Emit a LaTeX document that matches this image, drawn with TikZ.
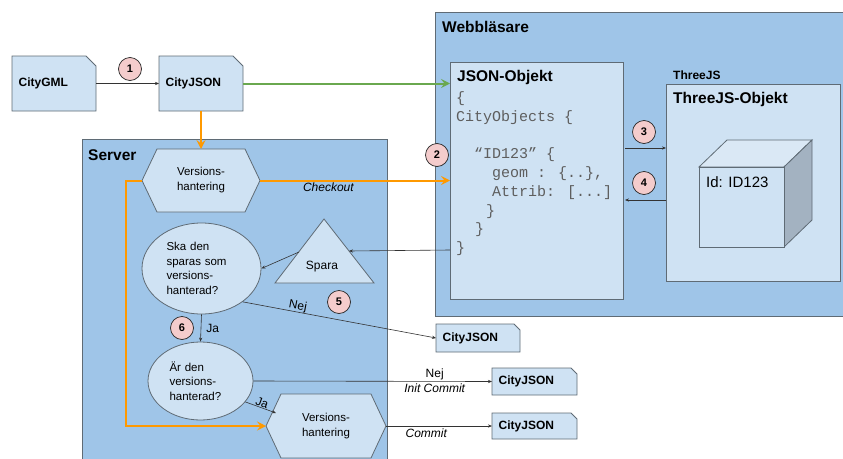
\documentclass[tikz,border=0pt]{standalone}
\usepackage{fontspec}
\setmainfont{Liberation Sans}
\newfontfamily\codefont{Liberation Mono}
\usetikzlibrary{shapes.geometric,arrows.meta,calc}

\definecolor{outerfill}{HTML}{9FC5E8}
\definecolor{innerfill}{HTML}{CFE2F3}
\definecolor{edgegray}{HTML}{5F6B75}
\definecolor{numfill}{HTML}{F4CCCC}
\definecolor{flow}{HTML}{FF9900}
\definecolor{webgreen}{HTML}{6AA84F}
\definecolor{codegray}{HTML}{5E5E5E}
\definecolor{cubeside}{HTML}{A3B2C1}
\definecolor{cubetop}{HTML}{DAE8F5}

\tikzset{
  panel/.style={fill=outerfill, draw=edgegray, line width=0.8pt},
  card/.style={fill=innerfill, draw=edgegray, line width=0.8pt},
  heading/.style={font=\fontsize{15.5}{18}\selectfont\bfseries, inner sep=0, anchor=west},
  smallheading/.style={font=\fontsize{12}{14}\selectfont\bfseries, inner sep=0, anchor=west},
  num/.style={circle, fill=numfill, draw=black!85, line width=0.7pt,
    minimum size=23pt, inner sep=0, font=\fontsize{11}{12}\selectfont\bfseries},
  blank/.style={inner sep=0, outer sep=0},
  doclabel/.style={font=\fontsize{12}{14}\selectfont\bfseries, inner sep=0, anchor=west},
  shapetext/.style={font=\fontsize{11.5}{15}\selectfont, align=center, inner sep=0},
  bubble/.style={ellipse, fill=innerfill, draw=edgegray, line width=0.8pt,
    inner sep=1pt, align=left, font=\fontsize{11.5}{14.6}\selectfont},
  thinarrow/.style={draw=black!80, line width=0.6pt, -{Stealth[length=4pt,width=3.2pt]}},
  orangearrow/.style={draw=flow, line width=2pt, -{Stealth[length=9pt,width=9pt,inset=3.5pt]}},
  greenarrow/.style={draw=webgreen, line width=2pt, -{Stealth[length=9pt,width=9pt,inset=3.5pt]}},
  lbl/.style={font=\fontsize{12}{14}\selectfont, inner sep=1pt},
  ilbl/.style={font=\fontsize{12}{14}\selectfont\itshape, inner sep=1pt},
}

% file-like box with one cut corner: name, x, y, width, height, cut, text
\newcommand\docshape[7]{%
  \draw[card] ({#2-#4/2},{#3+#5/2}) -- ({#2-#4/2},{#3-#5/2}) -- ({#2+#4/2-#6},{#3-#5/2})
    -- ({#2+#4/2},{#3-#5/2+#6}) -- ({#2+#4/2},{#3+#5/2}) -- cycle;
  \node[blank, minimum width=#4pt, minimum height=#5pt] (#1) at (#2,#3) {};
  \node[doclabel] at ([xshift=6.5pt]#1.west) {#7};
}
% hexagon: name, x, y, width, height, text
\newcommand\hexshape[6]{%
  \draw[card] ({#2-#4/2},#3) -- ({#2-#4/2+15},{#3-#5/2}) -- ({#2+#4/2-15},{#3-#5/2})
    -- ({#2+#4/2},#3) -- ({#2+#4/2-15},{#3+#5/2}) -- ({#2-#4/2+15},{#3+#5/2}) -- cycle;
  \node[blank, minimum width=#4pt, minimum height=#5pt] (#1) at (#2,#3) {};
  \node[shapetext] at (#1.center) {#6};
}

\begin{document}
\begin{tikzpicture}[x=1pt, y=-1pt]
\useasboundingbox (0,0) rectangle (843,458);
\clip (0,0) rectangle (843,458);

% containers
\draw[panel] (435,12) rectangle (860,316);
\node[heading] (webtitle) at (442,27) {Webbläsare};
\draw[panel] (82,139) rectangle (387,480);
\node[heading] (servertitle) at (88,155) {Server};

% JSON object card
\draw[card] (450,62) rectangle (623,299);
\node[blank, minimum width=173pt, minimum height=237pt] (jsonobj) at (536.5,180.5) {};
\node[heading] (jsontitle) at (457,77) {JSON-Objekt};
\node[inner sep=0, anchor=north west, align=left, text=codegray,
      font=\codefont\fontsize{15}{18.75}\selectfont] (code) at (456,91.5)
 {\{\\
  CityObjects \{\\
  \mbox{}\\
  \hspace*{18pt}“ID123” \{\\
  \hspace*{36pt}geom : \{..\},\\
  \hspace*{36pt}Attrib: [...]\\
  \hspace*{30pt}\}\\
  \hspace*{19pt}\}\\
  \}};

% ThreeJS card with cube
\node[smallheading] (threelabel) at (673,75) {ThreeJS};
\draw[card] (666,84) rectangle (840,281);
\node[blank, minimum width=174pt, minimum height=197pt] (threejs) at (753,182.5) {};
\node[heading] (threetitle) at (673,99) {ThreeJS-Objekt};
\draw[fill=cubetop, draw=edgegray, line width=0.8pt] (699,167) -- (727,140) -- (812,140) -- (784,167) -- cycle;
\draw[fill=cubeside, draw=edgegray, line width=0.8pt] (784,167) -- (812,140) -- (812,220) -- (784,247) -- cycle;
\draw[card] (699,167) rectangle (784,247);
\node[inner sep=0, anchor=west, font=\fontsize{15}{18}\selectfont] (cube) at (706,182) {Id: ID123};

% source files
\docshape{gml}{54}{83.5}{84}{55}{10}{CityGML}
\docshape{cjsrc}{201}{83.5}{84}{55}{10}{CityJSON}
\docshape{cjnej}{478}{338}{84}{28}{6}{CityJSON}
\docshape{cjinit}{534.5}{381.5}{85}{27}{6}{CityJSON}
\docshape{cjcommit}{534.5}{426}{85}{26}{6}{CityJSON}

% server shapes
\hexshape{vhtop}{201}{180.5}{118}{63}{Versions-\\hantering}
\hexshape{vhbot}{326}{426}{120}{64}{Versions-\\hantering}
\node[bubble, text width=70pt, minimum width=119pt, minimum height=91pt] (ska) at (201.5,268.5)
  {Ska den\\sparas som\\versions-\\hanterad?};
\node[bubble, text width=62pt, minimum width=105pt, minimum height=78pt] (ar) at (200.5,381)
  {Är den\\versions-\\hanterad?};
\draw[card] (324,219) -- (374,283) -- (275,283) -- cycle;
\node[lbl, inner sep=0] (spara) at (322,267) {Spara};
\coordinate (sparaR) at (349,251);
\coordinate (sparaL) at (299,252);

% connectors
\draw[thinarrow] (gml.east) -- (cjsrc.west);
\draw[greenarrow] (cjsrc.east) -- (cjsrc.east -| jsonobj.west);
\draw[orangearrow] (cjsrc.south) -- (vhtop.north);
\draw[orangearrow] (vhtop.east) -- node[ilbl, below=0.5pt, pos=0.36] {Checkout} (vhtop.east -| jsonobj.west);
\draw[orangearrow] (vhtop.west) -- ++(-16,0) |- (vhbot.west);

\coordinate (lvl3) at (0,148);
\coordinate (lvl4) at (0,200);
\coordinate (lvlsave) at (0,250);
\draw[thinarrow] ([xshift=2pt]jsonobj.east |- lvl3) -- (threejs.west |- lvl3);
\draw[thinarrow] (threejs.west |- lvl4) -- ([xshift=2pt]jsonobj.east |- lvl4);
\draw[thinarrow] (jsonobj.west |- lvlsave) -- (sparaR);
\draw[thinarrow] (sparaL) -- (ska.east);
\draw[thinarrow] (ska.-39) -- node[lbl, pos=0.28, above=-1pt, sloped] {Nej} (cjnej.west);
\draw[thinarrow] (ska.south) -- node[lbl, right=4pt, pos=0.5] {Ja} (ar.north);
\draw[thinarrow] (ar.east) -- node[lbl, above=0pt, pos=0.76] {Nej}
                            node[ilbl, below=1pt, pos=0.76] {Init Commit} (cjinit.west);
\draw[thinarrow] (ar.-25) -- node[lbl, above=-1pt, sloped, pos=0.5] {Ja} ($(vhbot.west)+(10,-13)$);
\draw[thinarrow] (vhbot.east) -- node[ilbl, below=1pt, pos=0.38] {Commit} (cjcommit.west);

% step numbers
\node[num] (n1) at (130,69) {1};
\node[num] (n2) at (437,155) {2};
\node[num] (n3) at (644,132) {3};
\node[num] (n4) at (644,183) {4};
\node[num] (n5) at (339,302) {5};
\node[num] (n6) at (182,328) {6};
\end{tikzpicture}
\end{document}
